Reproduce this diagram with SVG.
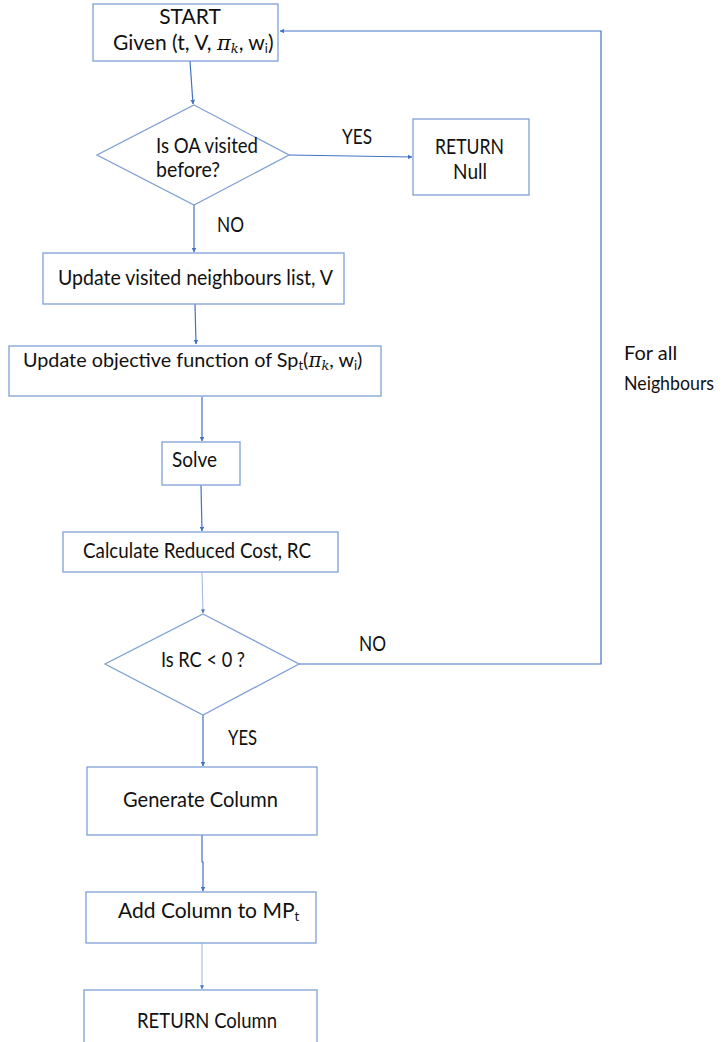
<svg xmlns="http://www.w3.org/2000/svg" width="725" height="1042" viewBox="0 0 725 1042">
  <style>
    .box { fill: #ffffff; stroke: #7f9fd8; stroke-width: 1.3; }
    .dec { fill: #ffffff; stroke: #7f9fd8; stroke-width: 1.3; }
    .lbl { font-family: Lato, "Liberation Sans", sans-serif; font-size: 21px; fill: #111111; }
    .sub { font-size: 13px; }
    .math { font-family: "DejaVu Serif", "Liberation Serif", serif; font-style: italic; }
    .wire { fill: none; stroke: #4472c4; stroke-width: 1.2; marker-end: url(#tip); }
    .wire.faint { stroke: #9fb6e0; stroke-width: 1; }
  </style>
  <defs>
    <marker id="tip" viewBox="0 0 6 6" refX="5.5" refY="3" markerWidth="4" markerHeight="4" orient="auto" markerUnits="strokeWidth">
      <path d="M0,0 L6,3 L0,6 z" fill="#4472c4"/>
    </marker>
  </defs>
  <rect width="725" height="1042" fill="#ffffff"/>

  <!-- connectors and their labels -->
  <g id="connectors">
    <path class="wire" d="M190,61 L193,104"/>
    <path class="wire" d="M289,155 L412,157"/>
    <path class="wire" d="M194,205 L194,252"/>
    <path class="wire" d="M195,304 L196,344"/>
    <path class="wire" d="M202,397 L202,441"/>
    <path class="wire" d="M201,485 L202,531"/>
    <path class="wire faint" d="M202,572 L203,613"/>
    <path class="wire" d="M299,664 L601,664 L601,31 L280,31"/>
    <path class="wire" d="M203,715 L203,766"/>
    <path class="wire" d="M202,835 L202,862 L203,862 L203,891"/>
    <path class="wire faint" d="M202,943 L202,989"/>
    <text class="lbl" x="342" y="144" textLength="30" lengthAdjust="spacingAndGlyphs">YES</text>
    <text class="lbl" x="217" y="232" textLength="27" lengthAdjust="spacingAndGlyphs">NO</text>
    <text class="lbl" x="359" y="651" textLength="27" lengthAdjust="spacingAndGlyphs">NO</text>
    <text class="lbl" x="228" y="745" textLength="29" lengthAdjust="spacingAndGlyphs">YES</text>
    <text class="lbl" x="624" y="360" style="font-size:20px">For all</text>
    <text class="lbl" x="624" y="390" style="font-size:19px" textLength="90" lengthAdjust="spacingAndGlyphs">Neighbours</text>
  </g>

  <g id="start">
    <rect class="box" x="93" y="4" width="185" height="57"/>
    <text class="lbl" x="190" y="24" text-anchor="middle">START</text>
    <text class="lbl" x="113" y="50">Given (t, V, <tspan class="math">π</tspan><tspan class="math sub" dy="3">k</tspan><tspan dy="-3">, w</tspan><tspan class="sub" dy="3">i</tspan><tspan dy="-3">)</tspan></text>
  </g>

  <g id="visited-check">
    <polygon class="dec" points="194,105 289,155 194,205 97,155"/>
    <text class="lbl" x="156" y="153" textLength="102" lengthAdjust="spacingAndGlyphs">Is OA visited</text>
    <text class="lbl" x="156" y="177" textLength="64" lengthAdjust="spacingAndGlyphs">before?</text>
  </g>

  <g id="return-null">
    <rect class="box" x="413" y="119" width="116" height="76"/>
    <text class="lbl" x="435" y="154" textLength="69" lengthAdjust="spacingAndGlyphs">RETURN</text>
    <text class="lbl" x="453" y="179" textLength="34" lengthAdjust="spacingAndGlyphs">Null</text>
  </g>

  <g id="update-visited">
    <rect class="box" x="43" y="253" width="301" height="51"/>
    <text class="lbl" x="58" y="285" textLength="275" lengthAdjust="spacingAndGlyphs">Update visited neighbours list, V</text>
  </g>

  <g id="update-objective">
    <rect class="box" x="9" y="346" width="372" height="50"/>
    <text class="lbl" x="23" y="367" style="font-size:19.8px">Update objective function of  Sp<tspan class="sub" dy="3">t</tspan><tspan dy="-3">(</tspan><tspan class="math">π</tspan><tspan class="math sub" dy="3">k</tspan><tspan dy="-3">, w</tspan><tspan class="sub" dy="3">i</tspan><tspan dy="-3">)</tspan></text>
  </g>

  <g id="solve">
    <rect class="box" x="162" y="442" width="78" height="43"/>
    <text class="lbl" x="172" y="467" textLength="45" lengthAdjust="spacingAndGlyphs">Solve</text>
  </g>

  <g id="reduced-cost">
    <rect class="box" x="63" y="532" width="275" height="40"/>
    <text class="lbl" x="83" y="558" textLength="228" lengthAdjust="spacingAndGlyphs">Calculate Reduced Cost, RC</text>
  </g>

  <g id="rc-check">
    <polygon class="dec" points="203,614 299,664 203,715 105,664"/>
    <text class="lbl" x="161" y="667" textLength="84" lengthAdjust="spacingAndGlyphs">Is RC &lt; 0 ?</text>
  </g>

  <g id="generate-column">
    <rect class="box" x="87" y="767" width="230" height="68"/>
    <text class="lbl" x="123" y="807" textLength="155" lengthAdjust="spacingAndGlyphs">Generate Column</text>
  </g>

  <g id="add-column">
    <rect class="box" x="86" y="892" width="230" height="51"/>
    <text class="lbl" x="118" y="918">Add Column to MP<tspan class="sub" dy="3">t</tspan></text>
  </g>

  <g id="return-column">
    <rect class="box" x="84" y="990" width="233" height="60"/>
    <text class="lbl" x="137" y="1028" textLength="140" lengthAdjust="spacingAndGlyphs">RETURN Column</text>
  </g>
</svg>
